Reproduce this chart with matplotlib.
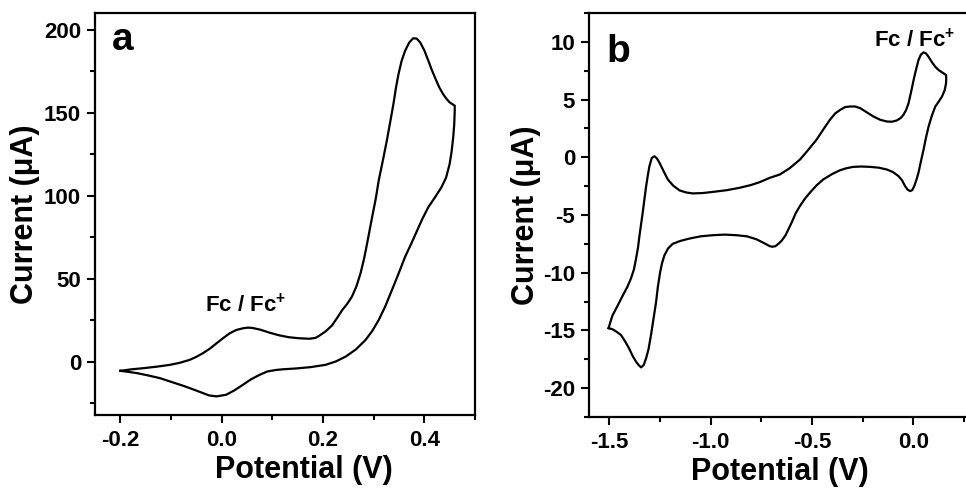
import matplotlib
matplotlib.use('Agg')
import matplotlib.pyplot as plt

plt.rcParams['font.family'] = ['Liberation Sans', 'DejaVu Sans']
plt.rcParams['font.weight'] = 'bold'
plt.rcParams['axes.unicode_minus'] = False
plt.rcParams['mathtext.fontset'] = 'custom'
plt.rcParams['mathtext.rm'] = 'Liberation Sans:bold'
plt.rcParams['mathtext.bf'] = 'Liberation Sans:bold'

# panel a: CV loop, potential (V) vs current (uA)
pot_a = [-0.200, -0.178, -0.154, -0.128, -0.102, -0.083, -0.063, -0.050, -0.037, -0.023,
         -0.010, 0.003, 0.016, 0.029, 0.042, 0.052, 0.061, 0.077, 0.094, 0.113,
         0.133, 0.153, 0.173, 0.185, 0.192, 0.205, 0.218, 0.228, 0.238, 0.248,
         0.257, 0.266, 0.274, 0.281, 0.287, 0.292, 0.297, 0.304, 0.310, 0.318,
         0.326, 0.333, 0.339, 0.344, 0.349, 0.355, 0.362, 0.370, 0.378, 0.385,
         0.392, 0.400, 0.408, 0.415, 0.421, 0.429, 0.437, 0.444, 0.450, 0.460,
         0.460, 0.459, 0.457, 0.454, 0.450, 0.443, 0.434, 0.421, 0.408, 0.396,
         0.386, 0.374, 0.362, 0.349, 0.336, 0.323, 0.310, 0.297, 0.284, 0.265,
         0.245, 0.225, 0.205, 0.175, 0.146, 0.120, 0.107, 0.090, 0.075, 0.058,
         0.042, 0.025, 0.009, -0.010, -0.025, -0.037, -0.056, -0.076, -0.100, -0.122,
         -0.145, -0.167, -0.185, -0.200]
cur_a = [-5.4, -4.5, -3.8, -2.9, -1.8, -0.6, 1.2, 3.0, 5.2, 8.0,
         11.2, 14.3, 17.2, 19.2, 20.2, 20.6, 20.4, 19.3, 17.6, 16.0,
         14.8, 14.2, 13.9, 14.4, 15.6, 18.3, 22.0, 26.5, 31.2, 35.0,
         39.2, 45.5, 53.2, 62.0, 71.2, 79.2, 87.2, 98.0, 109.2, 121.0,
         133.2, 145.0, 155.2, 165.0, 173.2, 181.0, 187.2, 192.2, 194.8, 194.6,
         192.2, 187.5, 181.2, 175.5, 171.2, 165.5, 161.2, 158.2, 156.2, 154.2,
         151.2, 143.0, 135.2, 127.0, 119.2, 111.0, 105.2, 99.0, 93.2, 86.0,
         79.2, 71.0, 63.2, 53.0, 43.2, 33.5, 25.2, 18.5, 13.2, 7.5,
         3.2, 0.2, -1.8, -3.2, -4.0, -4.5, -4.9, -5.8, -7.8, -10.5,
         -13.8, -17.2, -19.8, -20.8, -20.2, -18.8, -16.6, -14.4, -12.0, -9.8,
         -8.2, -6.8, -6.0, -5.4]

# panel b
pot_b = [-1.503, -1.495, -1.484, -1.460, -1.434, -1.410, -1.393, -1.378, -1.368, -1.358,
         -1.351, -1.343, -1.335, -1.326, -1.318, -1.310, -1.302, -1.290, -1.277, -1.265,
         -1.252, -1.232, -1.211, -1.185, -1.153, -1.120, -1.088, -1.040, -0.989, -0.920,
         -0.856, -0.800, -0.757, -0.708, -0.658, -0.610, -0.559, -0.520, -0.477, -0.444,
         -0.411, -0.385, -0.361, -0.336, -0.312, -0.287, -0.262, -0.229, -0.196, -0.163,
         -0.130, -0.105, -0.081, -0.062, -0.048, -0.035, -0.023, -0.010, 0.002, 0.014,
         0.026, 0.038, 0.051, 0.063, 0.076, 0.092, 0.109, 0.126, 0.142, 0.155,
         0.162, 0.163, 0.162, 0.155, 0.142, 0.125, 0.109, 0.092, 0.076, 0.063,
         0.051, 0.038, 0.026, 0.015, 0.005, -0.005, -0.015, -0.028, -0.040, -0.055,
         -0.072, -0.100, -0.130, -0.170, -0.213, -0.255, -0.296, -0.330, -0.361, -0.400,
         -0.444, -0.478, -0.510, -0.535, -0.559, -0.580, -0.600, -0.615, -0.630, -0.648,
         -0.662, -0.680, -0.695, -0.708, -0.740, -0.774, -0.820, -0.873, -0.930, -0.989,
         -1.050, -1.104, -1.150, -1.187, -1.210, -1.228, -1.240, -1.249, -1.260, -1.269,
         -1.282, -1.294, -1.306, -1.318, -1.330, -1.343, -1.355, -1.368, -1.385, -1.401,
         -1.420, -1.442, -1.465, -1.484, -1.503]
cur_b = [-14.8, -14.3, -13.7, -12.9, -12.0, -11.2, -10.5, -9.7, -8.8, -7.8,
         -6.8, -5.8, -4.8, -3.6, -2.5, -1.6, -0.78, -0.05, 0.09, -0.1,
         -0.48, -1.2, -1.92, -2.45, -2.87, -3.05, -3.13, -3.1, -3.0, -2.85,
         -2.64, -2.4, -2.15, -1.78, -1.49, -0.95, -0.2, 0.6, 1.53, 2.4,
         3.25, 3.8, 4.1, 4.35, 4.4, 4.4, 4.26, 3.9, 3.53, 3.25,
         3.1, 3.08, 3.19, 3.4, 3.68, 4.1, 4.69, 5.7, 6.7, 7.6,
         8.42, 8.9, 9.09, 9.0, 8.7, 8.25, 7.84, 7.55, 7.36, 7.2,
         7.13, 6.8, 6.4, 5.8, 5.26, 4.8, 4.4, 3.6, 2.67, 1.7,
         0.66, -0.35, -1.34, -2.0, -2.5, -2.85, -2.93, -2.8, -2.5, -2.0,
         -1.64, -1.28, -1.06, -0.9, -0.83, -0.8, -0.83, -0.95, -1.12, -1.45,
         -1.92, -2.45, -3.07, -3.6, -4.22, -4.85, -5.66, -6.2, -6.75, -7.2,
         -7.45, -7.7, -7.75, -7.7, -7.4, -7.1, -6.85, -6.75, -6.7, -6.75,
         -6.85, -7.04, -7.25, -7.5, -7.9, -8.5, -9.2, -9.97, -11.2, -12.55,
         -14.0, -15.4, -16.6, -17.4, -18.0, -18.2, -18.0, -17.7, -17.2, -16.6,
         -16.0, -15.4, -15.1, -14.9, -14.8]

xticks_a = [-0.2, 0.0, 0.2, 0.4]
yticks_a = [0, 50, 100, 150, 200]
xticks_b = [-1.5, -1.0, -0.5, 0.0]
yticks_b = [-20, -15, -10, -5, 0, 5, 10]

fig = plt.figure(figsize=(9.66, 4.88), dpi=100)
ax1 = fig.add_axes([95/966, 1-415/488, 380/966, 402/488])
ax2 = fig.add_axes([589/966, 1-417/488, 385/966, 404/488])


def style(ax):
    for s in ax.spines.values():
        s.set_linewidth(1.6)
    ax.tick_params(which='major', direction='out', length=6, width=1.5, labelsize=16, pad=4)
    ax.tick_params(axis='x', which='major', pad=5)
    ax.tick_params(which='minor', direction='out', length=3.5, width=1.5)
    for lab in ax.get_xticklabels() + ax.get_yticklabels():
        lab.set_fontweight('bold')


ax1.plot(pot_a, cur_a, color='black', lw=1.6)
ax1.set_xlim(-0.25, 0.5)
ax1.set_ylim(-32, 210)
ax1.set_xticks(xticks_a)
ax1.set_xticklabels(['-0.2', '0.0', '0.2', '0.4'])
ax1.set_xticks([-0.1, 0.1, 0.3, 0.5], minor=True)
ax1.set_yticks(yticks_a)
ax1.set_yticks([-25, 25, 75, 125, 175], minor=True)
style(ax1)
ax1.set_xlabel('Potential (V)', fontsize=22, fontweight='bold')
ax1.set_ylabel('Current (μA)', fontsize=22, fontweight='bold')
ax1.xaxis.set_label_coords(0.55, -0.1)
ax1.yaxis.set_label_coords(-0.145, 0.5)
ax1.text(0.045, 0.908, 'a', transform=ax1.transAxes, fontsize=28, fontweight='bold')
ax1.text(-0.033, 30, r'Fc / Fc$^{+}$', fontsize=16, fontweight='bold')

ax2.plot(pot_b, cur_b, color='black', lw=1.6)
ax2.set_xlim(-1.6, 0.3)
ax2.set_ylim(-22.5, 12.5)
ax2.set_xticks(xticks_b)
ax2.set_xticklabels(['-1.5', '-1.0', '-0.5', '0.0'])
ax2.set_xticks([-1.25, -0.75, -0.25, 0.25], minor=True)
ax2.set_yticks(yticks_b)
ax2.set_yticks([-22.5, -17.5, -12.5, -7.5, -2.5, 2.5, 7.5, 12.5], minor=True)
style(ax2)
ax2.set_xlabel('Potential (V)', fontsize=22, fontweight='bold')
ax2.set_ylabel('Current (μA)', fontsize=22, fontweight='bold')
ax2.xaxis.set_label_coords(0.496, -0.1)
ax2.yaxis.set_label_coords(-0.125, 0.5)
ax2.text(0.044, 0.879, 'b', transform=ax2.transAxes, fontsize=28, fontweight='bold')
ax2.text(-0.193, 9.55, r'Fc / Fc$^{+}$', fontsize=16, fontweight='bold')

fig.savefig('out.png', dpi=100)
